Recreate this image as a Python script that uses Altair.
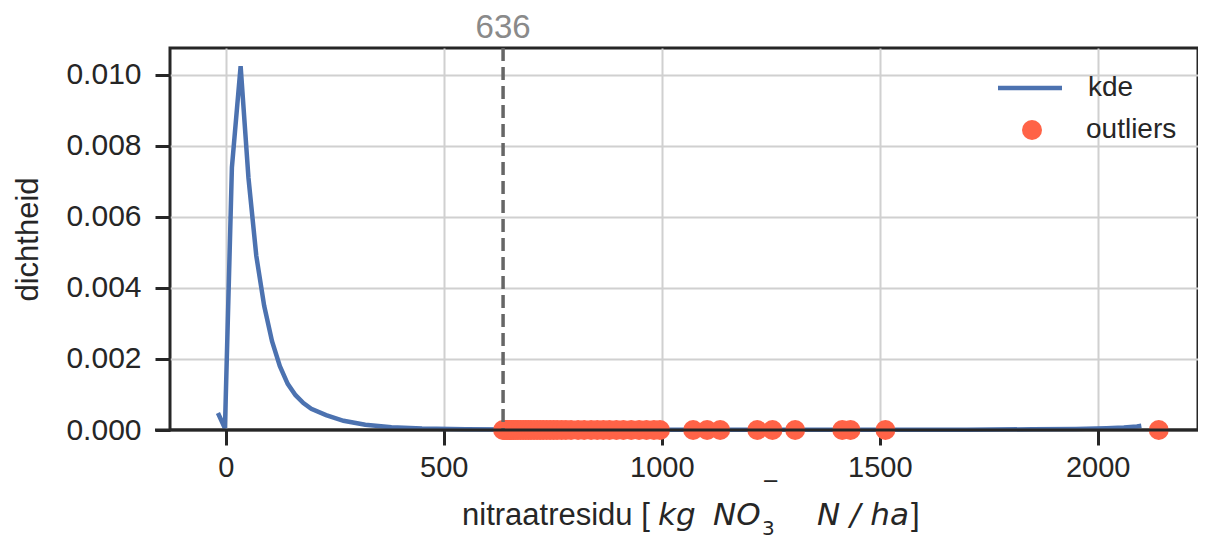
import altair as alt
import pandas as pd

# KDE curve
kde_x = [-18, -2, 14, 34, 52, 70, 88, 106, 124, 142, 160, 178, 196, 230, 270,
         320, 380, 450, 550, 700, 900, 1100, 1300, 1500, 1700, 1850, 1950,
         2020, 2060, 2090, 2100]
kde_y = [0.00048, 0.00005, 0.0074, 0.01025, 0.0071, 0.0049, 0.0035, 0.0025,
         0.0018, 0.0013, 0.00098, 0.00076, 0.0006, 0.00042, 0.00026,
         0.00015, 0.00008, 0.00004, 0.00002, 0.00001, 0.00001, 0.00001,
         0.00001, 0.00001, 0.00001, 0.00002, 0.00003, 0.00005, 0.00007,
         0.0001, 0.00012]

# outliers (all drawn at density 0)
outlier_x = [636, 640, 645, 650, 655, 660, 665, 670, 676, 682, 688, 694, 700,
             707, 714, 721, 728, 736, 744, 752, 760, 770, 780, 792,
             808, 822, 838, 852, 866, 880, 896, 912, 930, 948, 965, 982, 996,
             1072, 1104, 1134, 1219, 1254, 1306, 1414, 1433, 1513, 2140]

threshold = [636]
x_ticks = [0, 500, 1000, 1500, 2000]
y_ticks = [0.0, 0.002, 0.004, 0.006, 0.008, 0.010]
legend_labels = ["kde", "outliers"]

W, H = 1028, 382
FONT = "Liberation Sans"
MATH = "DejaVu Sans"
DARK = "#262626"
BLUE = "#4C72B0"
RED = "#FF6347"

xs = alt.Scale(domain=[-128, 2230], nice=False, zero=False)
ys = alt.Scale(domain=[0, 0.01076], nice=False, zero=False)

kde_df = pd.DataFrame({"x": kde_x, "y": kde_y})
out_df = pd.DataFrame({"x": outlier_x, "y": [0.0] * len(outlier_x)})
thr_df = pd.DataFrame({"x": threshold})
one = pd.DataFrame({"k": [0]})

x_axis = alt.Axis(values=x_ticks, format="d", title=None, grid=True,
                  gridColor="#d0d0d0", gridWidth=2, domain=False,
                  tickSize=15, tickWidth=3, tickColor=DARK,
                  labelFont=FONT, labelFontSize=29, labelColor=DARK,
                  labelPadding=8)
y_axis = alt.Axis(values=y_ticks, format=".3f", title="dichtheid", grid=True,
                  gridColor="#d0d0d0", gridWidth=2, domain=False,
                  tickSize=15, tickWidth=3, tickColor=DARK,
                  labelFont=FONT, labelFontSize=30, labelColor=DARK,
                  labelPadding=14, titleFont=FONT, titleFontSize=31,
                  titleFontWeight="normal", titleColor=DARK, titlePadding=21)

X = alt.X("x:Q", scale=xs, axis=x_axis)
Y = alt.Y("y:Q", scale=ys, axis=y_axis)

kde = alt.Chart(kde_df).mark_line(color=BLUE, strokeWidth=4.5).encode(x=X, y=Y)

outl = alt.Chart(out_df).mark_point(filled=True, color=RED, opacity=1,
                                    size=400).encode(x=X, y=Y)

vline = alt.Chart(thr_df).mark_rule(color="#666666", strokeWidth=3.5,
                                    strokeDash=[13, 6]).encode(x=X)

thr_text = alt.Chart(thr_df).mark_text(font=FONT, fontSize=33,
                                       color="#8a8a8a", baseline="alphabetic",
                                       align="center").encode(
    x=X, y=alt.value(-10), text=alt.Text("x:Q", format="d"),
)

spine = alt.Chart(one).mark_rule(color=DARK, strokeWidth=3).encode(
    x=alt.value(-15), x2=alt.value(W), y=alt.value(H))


# composite x-axis title
def txt(s, x, y, size=31, italic=False, font=FONT, baseline="alphabetic"):
    return alt.Chart(one).mark_text(
        text=s, font=font, fontSize=size, color=DARK, align="left",
        baseline=baseline, fontStyle="italic" if italic else "normal",
    ).encode(x=alt.value(x), y=alt.value(y))


title_layers = [
    txt("nitraatresidu [", 292, 477),
    txt("kg", 488, 477, italic=True, font=MATH),
    txt("NO", 543, 477, italic=True, font=MATH),
    txt("3", 592, 487, size=20, font=MATH),
    txt("\u2212", 592, 434, size=21, font=MATH, baseline="middle"),
    txt("N / ha", 647, 477, italic=True, font=MATH),
    txt("]", 741, 477),
]

# legend
leg_line = alt.Chart(one).mark_rule(color=BLUE, strokeWidth=4.5).encode(
    x=alt.value(828), x2=alt.value(892), y=alt.value(40))
leg_dot = alt.Chart(one).mark_point(filled=True, color=RED, opacity=1,
                                    size=400).encode(
    x=alt.value(862), y=alt.value(82))
leg_t1 = alt.Chart(one).mark_text(text=legend_labels[0], font=FONT,
                                  fontSize=28, color=DARK, align="left",
                                  baseline="middle").encode(
    x=alt.value(918), y=alt.value(40))
leg_t2 = alt.Chart(one).mark_text(text=legend_labels[1], font=FONT,
                                  fontSize=28, color=DARK, align="left",
                                  baseline="middle").encode(
    x=alt.value(916), y=alt.value(82))

chart = alt.layer(
    kde, outl, vline, spine, thr_text, *title_layers,
    leg_line, leg_dot, leg_t1, leg_t2,
).properties(
    width=W, height=H,
    autosize=alt.AutoSizeParams(type="none"),
    padding={"left": 162, "top": 40, "right": 0, "bottom": 110},
).configure_view(
    stroke=DARK, strokeWidth=3,
)

chart.save("out.html", embed_options={"renderer": "svg", "actions": False})
